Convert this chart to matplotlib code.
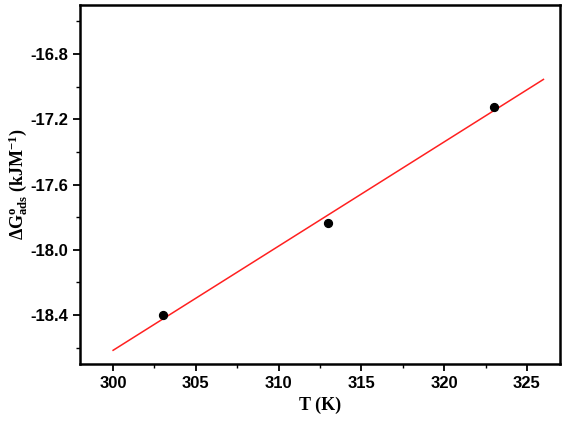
import matplotlib
matplotlib.use("Agg")
import matplotlib.pyplot as plt
import numpy as np
from matplotlib.ticker import MultipleLocator

T = [303, 313, 323]
dG = [-18.40, -17.835, -17.123]
fit_x = [300, 326]

plt.rcParams['axes.unicode_minus'] = False
plt.rcParams['mathtext.fontset'] = 'custom'
plt.rcParams['mathtext.rm'] = 'Liberation Serif:bold'
plt.rcParams['mathtext.it'] = 'Liberation Serif:bold'
plt.rcParams['mathtext.bf'] = 'Liberation Serif:bold'
plt.rcParams['mathtext.default'] = 'rm'

fig = plt.figure(figsize=(5.66, 4.25), dpi=100)
ax = fig.add_axes([80/566, 1-364/425, 480/566, 359/425])

slope, intercept = np.polyfit(T, dG, 1)
fx = np.array(fit_x)
ax.plot(fx, slope*fx + intercept, color='#ff2020', lw=1.1)
ax.scatter(T, dG, s=32, color='black', zorder=3)

ax.set_xlim(298, 327)
ax.set_ylim(-18.7, -16.5)
ax.xaxis.set_major_locator(MultipleLocator(5))
ax.xaxis.set_minor_locator(MultipleLocator(2.5))
ax.yaxis.set_minor_locator(MultipleLocator(0.2))
ax.set_yticks([-18.4, -18.0, -17.6, -17.2, -16.8])
ax.tick_params(which='major', direction='out', length=5, width=1.3)
ax.tick_params(which='minor', direction='out', length=3, width=1.0)
for lab in ax.get_xticklabels() + ax.get_yticklabels():
    lab.set_fontfamily('Liberation Sans')
    lab.set_fontweight('bold')
    lab.set_fontsize(12)
for s in ax.spines.values():
    s.set_linewidth(1.8)

ax.set_xlabel('T (K)', fontfamily='Liberation Serif', fontweight='bold', fontsize=13)
ax.set_ylabel(r'$\Delta$G$^{\rm o}_{\rm ads}$ (kJM$^{-1}$)', fontfamily='Liberation Serif',
              fontweight='bold', fontsize=13, va='center')
ax.yaxis.set_label_coords(-0.128, 0.5)

fig.savefig('out.png', dpi=100)
